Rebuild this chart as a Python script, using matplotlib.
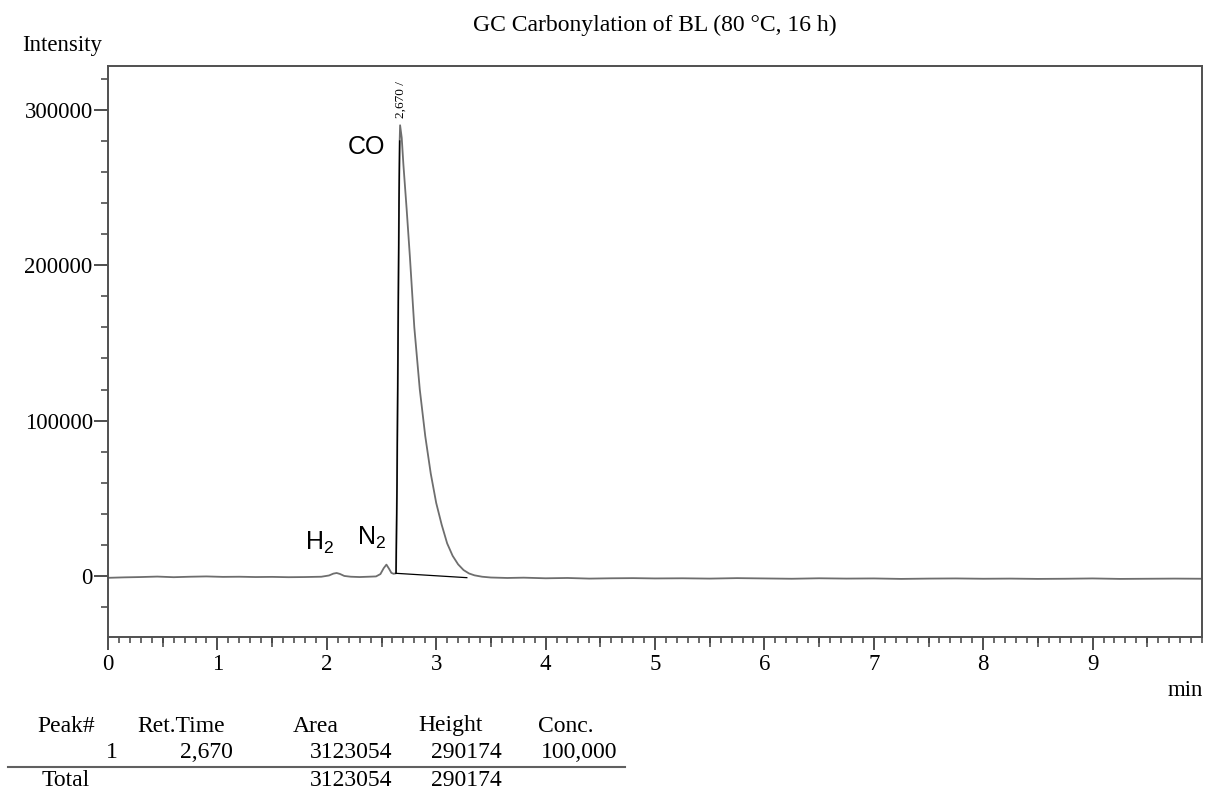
import numpy as np
import matplotlib
matplotlib.use("Agg")
import matplotlib.pyplot as plt
from matplotlib.lines import Line2D
from matplotlib.ticker import MultipleLocator, FuncFormatter

plt.rcParams['font.family'] = ['Liberation Serif', 'DejaVu Serif']
plt.rcParams['mathtext.fontset'] = 'custom'
plt.rcParams['mathtext.rm'] = 'Liberation Sans'

# chromatogram trace (min, intensity)
t_min = [0.00, 0.15, 0.30, 0.45, 0.60, 0.75, 0.90, 1.05, 1.20, 1.35,
         1.50, 1.65, 1.80, 1.95, 2.02, 2.06, 2.09, 2.12, 2.16, 2.22,
         2.30, 2.38, 2.45, 2.49, 2.52, 2.545, 2.57, 2.59, 2.61, 2.633,
         2.642, 2.652, 2.660, 2.666, 2.670, 2.685, 2.70, 2.73, 2.76, 2.80,
         2.85, 2.90, 2.95, 3.00, 3.05, 3.10, 3.15, 3.20, 3.25, 3.30,
         3.35, 3.42, 3.50, 3.65, 3.80, 4.00, 4.20, 4.40, 4.60, 4.80,
         5.00, 5.25, 5.50, 5.75, 6.00, 6.25, 6.50, 6.75, 7.00, 7.25,
         7.50, 7.75, 8.00, 8.25, 8.50, 8.75, 9.00, 9.25, 9.50, 9.75, 10.0]
signal = [-1200, -900, -700, -400, -800, -500, -300, -600, -500, -700,
          -600, -800, -700, -500, 300, 1500, 1900, 1300, 0, -500,
          -700, -500, -300, 1200, 5000, 7300, 4500, 2000, 1400, 1700,
          60000, 160000, 240000, 280000, 290174, 282000, 265000, 236000, 205000, 160000,
          120000, 90000, 66000, 47000, 33000, 21000, 13000, 7500, 3800, 1600,
          400, -500, -1000, -1300, -1100, -1500, -1300, -1700, -1500, -1400,
          -1600, -1500, -1700, -1400, -1600, -1800, -1500, -1700, -1600, -1900,
          -1700, -1600, -1800, -1700, -1900, -1800, -1600, -1900, -1800, -1700, -1800]

# integration baseline of the CO peak
base_t = [2.633, 3.28]
base_v = [1700, -1100]

# peak table
peak_no = [1]
ret_time = ["2,670"]
area = [3123054]
height = [290174]
conc = ["100,000"]

W, H = 1205, 791
fig = plt.figure(figsize=(W / 100, H / 100), dpi=100)
ax = fig.add_axes([108 / W, 1 - 637 / H, (1202 - 108) / W, (637 - 66) / H])

ax.plot(t_min, signal, color='#6e6e6e', lw=1.3)
# rising edge of the CO peak is drawn dark
ax.plot(t_min[29:34], signal[29:34], color='black', lw=1.0)
ax.plot(base_t, base_v, color='black', lw=0.9)

ax.set_xlim(0, 10)
ax.set_ylim(-39300, 328300)

for s in ax.spines.values():
    s.set_color('#505050')
    s.set_linewidth(1.4)

ax.set_xticks(range(0, 10))
ax.xaxis.set_minor_locator(MultipleLocator(0.1))
ax.set_yticks([0, 100000, 200000, 300000])
ax.yaxis.set_minor_locator(MultipleLocator(20000))
ax.yaxis.set_major_formatter(FuncFormatter(lambda v, p: "%d" % v))
ax.tick_params(axis='x', which='major', length=9.4, width=1.3, color='#404040',
               labelsize=16.5, pad=3)
ax.tick_params(axis='x', which='minor', length=4.3, width=1.1, color='#404040')
ax.tick_params(axis='y', which='major', length=10, width=1.3, color='#404040',
               labelsize=16.5, pad=1)
ax.tick_params(axis='y', which='minor', length=5, width=1.1, color='#404040')

# medium ticks at the half minutes
sec = ax.secondary_xaxis('bottom')
sec.set_xticks(np.arange(0.5, 10, 1.0))
sec.tick_params(length=7.2, width=1.1, color='#404040', labelbottom=False)
sec.spines['bottom'].set_visible(False)

ax.set_title("GC Carbonylation of BL (80 \u00b0C, 16 h)", fontsize=17, pad=25)

# peak labels
ax.text(2.675, 295000, "2,670 /", rotation=90, fontsize=9.5, ha='center', va='bottom')
ax.text(2.36, 276000, "CO", family='Liberation Sans', fontsize=18, ha='center', va='center')
ax.text(1.93, 21500, r"$\mathrm{H}_2$", fontsize=18, ha='center', va='center')
ax.text(2.41, 24500, r"$\mathrm{N}_2$", fontsize=18, ha='center', va='center')

def px(x, y):
    return x / W, 1 - y / H

fig.text(*px(22, 45), "Intensity", fontsize=16.5, ha='left', va='center')
fig.text(*px(1203, 691), "min", fontsize=16.5, ha='right', va='center')

# peak table below the chart
fs = 17
headers = [("Peak#", 37), ("Ret.Time", 137), ("Area", 293), ("Height", 418), ("Conc.", 538)]
for txt, x in headers:
    fig.text(*px(x, 726), txt, fontsize=fs, ha='left', va='center')
for i in range(len(peak_no)):
    y = 752 + 26 * i
    fig.text(*px(118, y), "%d" % peak_no[i], fontsize=fs, ha='right', va='center')
    fig.text(*px(233, y), ret_time[i], fontsize=fs, ha='right', va='center')
    fig.text(*px(392, y), "%d" % area[i], fontsize=fs, ha='right', va='center')
    fig.text(*px(502, y), "%d" % height[i], fontsize=fs, ha='right', va='center')
    fig.text(*px(617, y), conc[i], fontsize=fs, ha='right', va='center')
fig.add_artist(Line2D([8 / W, 625 / W], [1 - 767 / H, 1 - 767 / H], color='#606060', lw=1.5))
fig.text(*px(42, 780), "Total", fontsize=fs, ha='left', va='center')
fig.text(*px(392, 780), "%d" % sum(area), fontsize=fs, ha='right', va='center')
fig.text(*px(502, 780), "%d" % sum(height), fontsize=fs, ha='right', va='center')

fig.savefig("out.png", dpi=100)
